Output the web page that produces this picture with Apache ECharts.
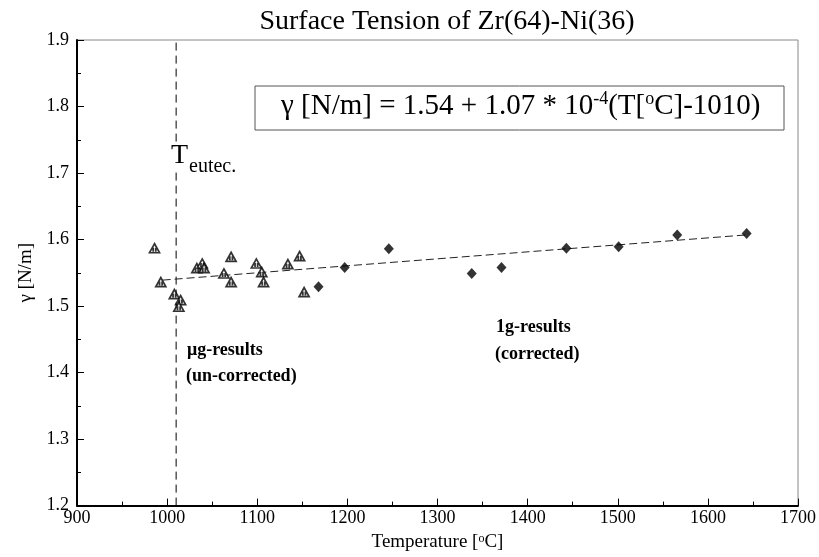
<!DOCTYPE html>
<html>
<head>
<meta charset="utf-8">
<script src="https://cdn.jsdelivr.net/npm/echarts@6/dist/echarts.min.js"></script>
<style>html,body{margin:0;padding:0;background:#fff;}#c{width:819px;height:557px;}</style>
</head>
<body>
<div id="c"></div>
<script>
// ---- data ----
const ugT     = [986, 993, 1008, 1015, 1013, 1033, 1039, 1041, 1071, 1063, 1071, 1099, 1105, 1107, 1134, 1147, 1152];
const ugGamma = [1.587, 1.536, 1.518, 1.509, 1.499, 1.557, 1.564, 1.557, 1.574, 1.549, 1.536, 1.564, 1.551, 1.536, 1.563, 1.575, 1.521];
const g1T     = [1168, 1197, 1246, 1338, 1371, 1443, 1501, 1566, 1643];
const g1Gamma = [1.529, 1.558, 1.586, 1.549, 1.558, 1.587, 1.589, 1.607, 1.609];
const fitT     = [995, 1643];
const fitGamma = [1.539, 1.607];
const eutecT = 1010;
const xRange = [900, 1700];
const yRange = [1.2, 1.9];

const FONT = '"Liberation Serif", "DejaVu Serif", serif';
const zip = (a, b) => a.map((v, i) => [v, b[i]]);

const chart = echarts.init(document.getElementById('c'), null, {renderer: 'canvas'});
chart.setOption({
  animation: false,
  backgroundColor: '#fff',
  grid: {left: 77, right: 20, top: 40, bottom: 41, show: true, borderColor: '#888', borderWidth: 1, backgroundColor: 'transparent'},
  xAxis: {
    type: 'value', min: xRange[0], max: xRange[1], interval: 100,
    name: 'Temperature [{s|o}C]', nameLocation: 'middle', nameGap: 24,
    nameTextStyle: {fontFamily: FONT, fontSize: 19, color: '#000',
      rich: {s: {fontFamily: FONT, fontSize: 12, color: '#000', verticalAlign: 'top', padding: [0, 0, 8, 0]}}},
    axisLine: {show: true, onZero: false, lineStyle: {color: '#000', width: 2}},
    axisTick: {show: true, inside: true, length: 7, lineStyle: {color: '#000'}},
    minorTick: {show: true, splitNumber: 2, length: 4, lineStyle: {color: '#000'}},
    splitLine: {show: false},
    axisLabel: {fontFamily: FONT, fontSize: 18, color: '#000', margin: 4, formatter: v => String(v)}
  },
  yAxis: {
    type: 'value', min: yRange[0], max: yRange[1], interval: 0.1,
    name: 'γ [N/m]', nameLocation: 'middle', nameGap: 39, nameRotate: 90,
    nameTextStyle: {fontFamily: FONT, fontSize: 19, color: '#000'},
    axisLine: {show: true, onZero: false, lineStyle: {color: '#000', width: 2}},
    axisTick: {show: true, inside: true, length: 7, lineStyle: {color: '#000'}},
    minorTick: {show: true, splitNumber: 2, length: 4, lineStyle: {color: '#000'}},
    splitLine: {show: false},
    axisLabel: {fontFamily: FONT, fontSize: 18, color: '#000', margin: 8, formatter: v => v.toFixed(1)}
  },
  series: [
    {
      type: 'line', data: [[eutecT, yRange[0]], [eutecT, yRange[1]]], symbol: 'none',
      lineStyle: {color: '#000', width: 1, type: [8, 5]}, z: 1
    },
    {
      type: 'line', data: zip(fitT, fitGamma), symbol: 'none',
      lineStyle: {color: '#222', width: 1, type: [8, 4]}, z: 2
    },
    {
      type: 'scatter', data: zip(ugT, ugGamma),
      symbol: 'path://M5 0 L10 9 L0 9 Z M3.7 4 L3.7 8 M6.3 4 L6.3 8', symbolSize: [10, 9],
      itemStyle: {color: '#fff', borderColor: '#000', borderWidth: 1.7}, z: 3
    },
    {
      type: 'scatter', data: zip(g1T, g1Gamma), symbol: 'diamond', symbolSize: [10, 11],
      itemStyle: {color: '#000'}, z: 3
    }
  ],
  graphic: [
    {type: 'text', x: 447, y: 8, style: {text: 'Surface Tension of Zr(64)-Ni(36)', font: '28px ' + FONT, fill: '#000', align: 'center'}},
    {type: 'rect', shape: {x: 255, y: 86, width: 529, height: 44}, style: {fill: '#fff', stroke: '#555', lineWidth: 1}, z: 10},
    {type: 'text', x: 281, y: 106, z: 11, style: {
      text: 'γ [N/m] = 1.54 + 1.07 * 10{s|-4}(T[{s|o}C]-1010)',
      font: '29px ' + FONT, fill: '#000', verticalAlign: 'middle',
      rich: {s: {font: '18px ' + FONT, fill: '#000', verticalAlign: 'top', padding: [0, 0, 14, 0]}}
    }},
    {type: 'text', x: 171, y: 142, z: 11, style: {text: 'T', font: '28px ' + FONT, fill: '#000', backgroundColor: '#fff'}},
    {type: 'text', x: 189, y: 157, z: 11, style: {text: 'eutec.', font: '20px ' + FONT, fill: '#000'}},
    {type: 'text', x: 187, y: 341, z: 11, style: {text: 'μg-results', font: 'bold 18px ' + FONT, fill: '#000'}},
    {type: 'text', x: 186, y: 367, z: 11, style: {text: '(un-corrected)', font: 'bold 18px ' + FONT, fill: '#000'}},
    {type: 'text', x: 496, y: 318, z: 11, style: {text: '1g-results', font: 'bold 18px ' + FONT, fill: '#000'}},
    {type: 'text', x: 495, y: 345, z: 11, style: {text: '(corrected)', font: 'bold 18px ' + FONT, fill: '#000'}}
  ]
});
</script>
</body>
</html>
